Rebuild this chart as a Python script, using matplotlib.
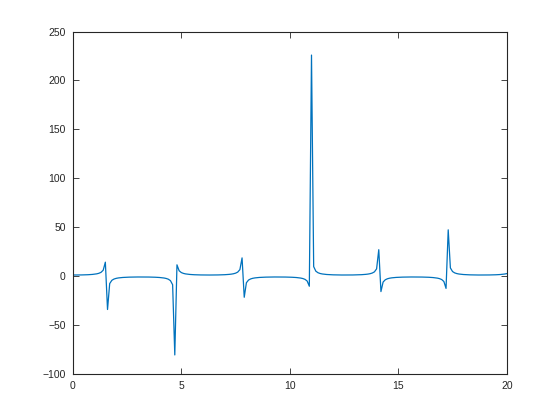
import numpy as np
import matplotlib
matplotlib.use("Agg")
import matplotlib.pyplot as plt

plt.rcParams['font.family'] = ['Liberation Sans', 'DejaVu Sans']

# samples every 0.1 from 0 to 20
x_step = 0.1
y_vals = [
    1.000, 1.005, 1.020, 1.047, 1.086, 1.139, 1.212, 1.307, 1.435, 1.609,
    1.851, 2.205, 2.760, 3.738, 5.883, 14.14, -34.25, -7.763, -4.401, -3.093,
    -2.403, -1.981, -1.699, -1.501, -1.356, -1.248, -1.167, -1.106, -1.061, -1.030,
    -1.010, -1.001, -1.002, -1.013, -1.034, -1.068, -1.115, -1.179, -1.264, -1.378,
    -1.530, -1.740, -2.040, -2.495, -3.254, -4.744, -8.909, -80.71, 11.43, 5.361,
    3.525, 2.645, 2.134, 1.804, 1.575, 1.411, 1.289, 1.198, 1.129, 1.078,
    1.041, 1.017, 1.004, 1.000, 1.007, 1.024, 1.052, 1.094, 1.150, 1.226,
    1.326, 1.458, 1.644, 1.900, 2.280, 2.885, 3.979, 6.519, 18.52, -21.75,
    -6.873, -4.107, -2.948, -2.318, -1.926, -1.661, -1.473, -1.336, -1.233, -1.156,
    -1.098, -1.055, -1.026, -1.008, -1.000, -1.003, -1.016, -1.039, -1.075, -1.125,
    -1.192, -1.281, -1.400, -1.561, -1.782, -2.103, -2.596, -3.433, -5.147, -10.47,
    225.9, 9.596, 4.926, 3.337, 2.541, 2.069, 1.760, 1.544, 1.388, 1.272,
    1.185, 1.120, 1.071, 1.037, 1.014, 1.002, 1.001, 1.009, 1.028, 1.058,
    1.102, 1.161, 1.241, 1.346, 1.488, 1.681, 1.954, 2.362, 3.020, 4.246,
    7.313, 26.90, -15.93, -6.169, -3.849, -2.818, -2.240, -1.874, -1.625, -1.447,
    -1.316, -1.218, -1.145, -1.089, -1.049, -1.022, -1.006, -1.000, -1.004, -1.019,
    -1.044, -1.082, -1.135, -1.205, -1.299, -1.423, -1.593, -1.828, -2.170, -2.703,
    -3.634, -5.621, -12.70, 47.20, 8.271, 4.558, 3.168, 2.446, 2.008, 1.718,
    1.514, 1.366, 1.256, 1.173, 1.110, 1.064, 1.032, 1.011, 1.001, 1.001,
    1.011, 1.032, 1.065, 1.111, 1.173, 1.257, 1.367, 1.516, 1.720, 2.010,
    2.450,
]
x_vals = np.round(np.arange(len(y_vals)) * x_step, 1)

x_ticks = [0, 5, 10, 15, 20]
y_ticks = [-100, -50, 0, 50, 100, 150, 200, 250]

fig = plt.figure(figsize=(5.6, 4.2), dpi=100)
ax = fig.add_axes([0.13, 0.11, 0.775, 0.815])

ax.plot(x_vals, y_vals, color='#0072BD', linewidth=0.9)

ax.set_xlim(0, 20)
ax.set_ylim(-100, 250)
ax.set_xticks(x_ticks)
ax.set_yticks(y_ticks)

for s in ax.spines.values():
    s.set_linewidth(0.8)
    s.set_color('#262626')
ax.tick_params(direction='in', length=4, width=0.6, colors='#262626',
               labelsize=7.5, top=True, right=True, pad=5)

plt.savefig('out.png', dpi=100)
plt.close()
